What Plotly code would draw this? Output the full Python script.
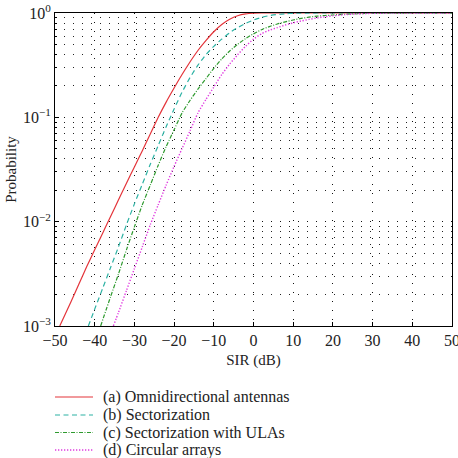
import plotly.graph_objects as go

# Series data (SIR in dB, probability)
sir_a = [-48.8, -46, -44, -42, -40, -38, -36, -34, -32, -30, -28, -26, -24, -22, -20,
         -18, -16, -14, -12, -10, -8, -6, -4, -2, 0, 2, 50]
prob_a = [0.001, 0.0017, 0.00251, 0.00372, 0.00537, 0.00776, 0.0112, 0.0162, 0.0234,
          0.0335, 0.0479, 0.0692, 0.100, 0.140, 0.191, 0.257, 0.339, 0.437, 0.543,
          0.661, 0.776, 0.871, 0.940, 0.979, 0.995, 1.0, 1.0]

sir_b = [-41.6, -40, -38, -36, -34, -32, -30, -28, -26, -24, -22, -20, -18, -16, -14,
         -12, -10, -8, -6, -4, -2, 0, 2, 4, 6, 8, 10, 14, 18, 50]
prob_b = [0.001, 0.00145, 0.00229, 0.00363, 0.00575, 0.00933, 0.0148, 0.0229, 0.0355,
          0.0537, 0.0813, 0.120, 0.174, 0.240, 0.316, 0.398, 0.479, 0.562, 0.646,
          0.724, 0.794, 0.855, 0.906, 0.944, 0.968, 0.984, 0.993, 0.999, 1.0, 1.0]

sir_c = [-38.5, -36, -34, -32, -30, -28, -26, -24, -22, -20, -18, -16, -14, -12, -10,
         -8, -6, -4, -2, 0, 2, 4, 6, 8, 10, 12, 14, 16, 18, 20, 23, 26, 30, 35, 40, 50]
prob_c = [0.001, 0.00191, 0.00316, 0.00537, 0.00891, 0.0145, 0.0224, 0.0347, 0.0525,
          0.0759, 0.110, 0.145, 0.186, 0.234, 0.295, 0.363, 0.432, 0.501, 0.569,
          0.631, 0.692, 0.741, 0.785, 0.822, 0.857, 0.887, 0.912, 0.933, 0.946,
          0.957, 0.973, 0.984, 0.993, 0.998, 1.0, 1.0]

sir_d = [-35.3, -34, -32, -30, -28, -26, -24, -22, -20, -18, -16, -14, -12, -10, -8,
         -6, -4, -2, 0, 2, 4, 6, 8, 10, 12, 14, 16, 18, 20, 23, 26, 30, 35, 40, 50]
prob_d = [0.001, 0.00135, 0.00219, 0.00355, 0.00575, 0.00933, 0.0145, 0.0224, 0.0339,
          0.0501, 0.0741, 0.110, 0.148, 0.195, 0.257, 0.324, 0.398, 0.479, 0.562,
          0.631, 0.684, 0.724, 0.767, 0.804, 0.838, 0.869, 0.897, 0.920, 0.940,
          0.964, 0.982, 0.993, 0.998, 1.0, 1.0]

names = ["(a) Omnidirectional antennas", "(b) Sectorization",
         "(c) Sectorization with ULAs", "(d) Circular arrays"]

x_ticks = [-50, -40, -30, -20, -10, 0, 10, 20, 30, 40, 50]
y_ticks = [1e-3, 1e-2, 1e-1, 1]
y_ticktext = ["10<sup>−3</sup>", "10<sup>−2</sup>", "10<sup>−1</sup>", "10<sup>0</sup>"]
y_minor = [m * 10 ** e for e in (-3, -2, -1) for m in range(2, 10)]

FONT = "Liberation Serif, 'Times New Roman', 'DejaVu Serif', serif"
W, H = 458, 458
ML, MR, MT, MB = 55, 6, 13, 132
PW, PH = W - ML - MR, H - MT - MB

styles = [
    dict(color="#e4343a", dash="solid", width=1.2),
    dict(color="#2db2a4", dash="5px,3.5px", width=1.2),
    dict(color="#2e9a2e", dash="4px,1.5px,1px,1.5px", width=1.2),
    dict(color="#e03be0", dash="1.3px,1.7px", width=1.4),
]

fig = go.Figure()
for xs, ys, nm, st in zip([sir_a, sir_b, sir_c, sir_d],
                          [prob_a, prob_b, prob_c, prob_d], names, styles):
    fig.add_trace(go.Scatter(x=xs, y=ys, mode="lines", name=nm, showlegend=False,
                             line=dict(shape="spline", smoothing=0.6, **st)))

# Legend drawn below the plot (sample line + label per series)
legend_rows_px = [397, 415, 432.5, 450]
for nm, st, py in zip(names, styles, legend_rows_px):
    yp = (H - MB - py) / PH
    fig.add_shape(type="line", xref="paper", yref="paper",
                  x0=0.0, x1=(93 - ML) / PW, y0=yp, y1=yp,
                  line=dict(color=st["color"], dash=st["dash"], width=st["width"]))
    fig.add_annotation(xref="paper", yref="paper", x=(101 - ML) / PW, y=yp,
                       xanchor="left", yanchor="middle", text=nm, showarrow=False,
                       font=dict(family=FONT, size=16, color="#222"))

fig.update_layout(
    width=W, height=H,
    margin=dict(l=ML, r=MR, t=MT, b=MB, autoexpand=False),
    paper_bgcolor="white", plot_bgcolor="white",
    font=dict(family=FONT, size=16, color="#222"),
    showlegend=False,
)
GRID = dict(showgrid=True, gridcolor="#111", gridwidth=1, griddash="1px,8px")
fig.update_xaxes(
    range=[-50, 50], tickvals=x_ticks, ticklabeloverflow="allow",
    showline=True, linecolor="black", linewidth=1, mirror=True,
    ticks="inside", ticklen=4, tickcolor="black",
    zeroline=False,
    title=dict(text="SIR (dB)", font=dict(family=FONT, size=15), standoff=6),
    tickfont=dict(family=FONT, size=16),
    **GRID,
)
fig.update_yaxes(
    type="log", range=[-3, 0],
    tickvals=y_ticks, ticktext=y_ticktext,
    showline=True, linecolor="black", linewidth=1, mirror=True,
    ticks="inside", ticklen=4, tickcolor="black",
    minor=dict(tickvals=y_minor, showgrid=True, gridcolor="#222",
               griddash="1px,8px", gridwidth=1, ticks="inside", ticklen=2,
               tickcolor="black"),
    zeroline=False,
    title=dict(text="Probability", font=dict(family=FONT, size=15), standoff=2),
    tickfont=dict(family=FONT, size=16),
    **GRID,
)

fig.write_html("out.html")
